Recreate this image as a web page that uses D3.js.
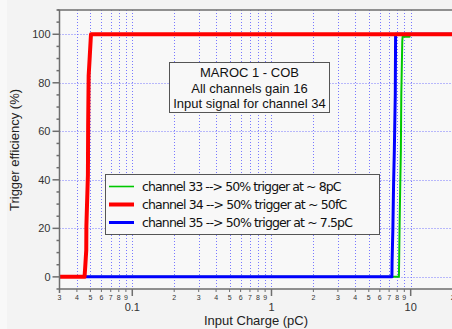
<!DOCTYPE html>
<html>
<head>
<meta charset="utf-8">
<script src="https://cdn.jsdelivr.net/npm/d3@7"></script>
<style>
	body { margin: 0; background: #f3f3f3; }
	svg { display: block; }
</style>
</head>
<body>
<div id="plot"></div>
<script>
// readings from the picture: [charge pC, efficiency %]
var ch33 = [[0.046,0],[8.23,0],[8.26,6],[8.32,20],[8.42,39],[8.50,52],[8.56,75],[8.70,97],[8.75,99],[9.82,99],[9.85,100],[30,100]];
var ch34 = [[0.03,0],[0.0454,0],[0.0459,4],[0.0467,11],[0.0468,21],[0.0480,42],[0.0481,52],[0.0482,63],[0.0486,83],[0.0495,91],[0.0505,100],[30,100]];
var ch35 = [[0.046,0],[7.33,0],[7.35,6],[7.45,20],[7.54,39],[7.63,52],[7.75,75],[7.79,100],[30,100]];

var yMajor = [0, 20, 40, 60, 80, 100];
var yMinor = [-5, 5, 10, 15, 25, 30, 35, 45, 50, 55, 65, 70, 75, 85, 90, 95, 105, 110];
var xMajor = [0.1, 1, 10];
var xMinor = [0.03,0.04,0.05,0.06,0.07,0.08,0.09,0.2,0.3,0.4,0.5,0.6,0.7,0.8,0.9,2,3,4,5,6,7,8,9,20];

var boxLines = ['MAROC 1 - COB', 'All channels gain 16', 'Input signal for channel 34'];
var legend = [
	{txt: 'channel 33 --> 50% trigger at ~ 8pC', col: '#00c800', w: 1.6},
	{txt: 'channel 34 --> 50% trigger at ~ 50fC', col: '#ff0000', w: 4},
	{txt: 'channel 35 --> 50% trigger at ~ 7.5pC', col: '#0000ff', w: 3}
];
var series = [
	{d: ch33, col: '#00c800', w: 2},
	{d: ch35, col: '#0000ff', w: 3},
	{d: ch34, col: '#ff0000', w: 4}
];

var W = 452, H = 329;
var mLeft = 59.5, mTop = 10, mBottom = 289;

var x = d3.scaleLog().domain([0.03, 30]).range([mLeft, mLeft + 3 * 139.2]);
var y = d3.scaleLinear().domain([-5, 110]).range([mBottom, mTop]);

var svg = d3.select('#plot').append('svg')
	.attr('width', W).attr('height', H)
	.style('font-family', 'Liberation Sans, Arial, sans-serif');

svg.append('rect').attr('width', W).attr('height', H).attr('fill', '#f3f3f3');
svg.append('rect').attr('width', 7).attr('height', H).attr('fill', '#f8f8f8');
svg.append('rect')
	.attr('x', mLeft).attr('y', mTop)
	.attr('width', W - mLeft).attr('height', mBottom - mTop)
	.attr('fill', '#f8f8f8');

svg.append('clipPath').attr('id', 'clip')
	.append('rect')
		.attr('x', mLeft).attr('y', mTop)
		.attr('width', W - mLeft).attr('height', mBottom - mTop);

// grid
var grid = svg.append('g')
	.attr('stroke', '#7878ff')
	.attr('stroke-width', 1)
	.attr('stroke-dasharray', '1,2');
grid.selectAll('.gx')
	.data(xMinor.concat(xMajor).filter(d => d > 0.03))
	.enter().append('line')
		.attr('x1', d => Math.round(x(d)) + 0.5).attr('x2', d => Math.round(x(d)) + 0.5)
		.attr('y1', mTop).attr('y2', mBottom);
grid.selectAll('.gy')
	.data(yMajor)
	.enter().append('line')
		.attr('x1', mLeft).attr('x2', W)
		.attr('y1', d => Math.round(y(d)) + 0.5).attr('y2', d => Math.round(y(d)) + 0.5);

// curves
var line = d3.line().x(d => x(d[0])).y(d => y(d[1]));
svg.append('g').attr('clip-path', 'url(#clip)')
	.selectAll('path')
	.data(series)
	.enter().append('path')
		.attr('d', d => line(d.d))
		.attr('fill', 'none')
		.attr('stroke', d => d.col)
		.attr('stroke-width', d => d.w)
		.attr('stroke-linejoin', 'round');

// axes frame
var axCol = '#6e6e6e';
svg.append('line')
	.attr('x1', mLeft).attr('x2', mLeft).attr('y1', mTop).attr('y2', mBottom + 4)
	.attr('stroke', axCol).attr('stroke-width', 1.5);
svg.append('line')
	.attr('x1', mLeft - 2).attr('x2', W).attr('y1', mTop).attr('y2', mTop)
	.attr('stroke', axCol).attr('stroke-width', 1.5);
svg.append('line')
	.attr('x1', mLeft).attr('x2', W).attr('y1', mBottom).attr('y2', mBottom)
	.attr('stroke', axCol).attr('stroke-width', 1.5);

// y ticks
var yAxis = svg.append('g');
yAxis.selectAll('.mj')
	.data(yMajor)
	.enter().append('line')
		.attr('x1', mLeft - 7).attr('x2', mLeft)
		.attr('y1', d => y(d)).attr('y2', d => y(d))
		.attr('stroke', axCol).attr('stroke-width', 1.5);
yAxis.selectAll('.mn')
	.data(yMinor)
	.enter().append('line')
		.attr('x1', mLeft - 3).attr('x2', mLeft)
		.attr('y1', d => y(d)).attr('y2', d => y(d))
		.attr('stroke', axCol).attr('stroke-width', 1.5);
yAxis.selectAll('text')
	.data(yMajor)
	.enter().append('text')
		.attr('x', mLeft - 9).attr('y', d => y(d) + 4)
		.attr('text-anchor', 'end')
		.attr('font-size', 11)
		.attr('fill', '#333')
		.text(d => d);

// x ticks
function digit(d) {
	return Math.round(d / Math.pow(10, Math.floor(Math.log10(d) + 1e-9)));
}
var xAxis = svg.append('g');
xAxis.selectAll('.mn')
	.data(xMinor)
	.enter().append('line')
		.attr('x1', d => x(d)).attr('x2', d => x(d))
		.attr('y1', mBottom).attr('y2', mBottom + 3)
		.attr('stroke', axCol).attr('stroke-width', 1);
xAxis.selectAll('.mj')
	.data(xMajor)
	.enter().append('line')
		.attr('x1', d => x(d)).attr('x2', d => x(d))
		.attr('y1', mBottom).attr('y2', mBottom + 7)
		.attr('stroke', axCol).attr('stroke-width', 1.5);
xAxis.selectAll('.lmn')
	.data(xMinor)
	.enter().append('text')
		.attr('x', d => x(d)).attr('y', mBottom + 10.5)
		.attr('text-anchor', 'middle')
		.attr('font-size', 7)
		.attr('fill', '#333')
		.text(d => digit(d));
xAxis.selectAll('.lmj')
	.data(xMajor)
	.enter().append('text')
		.attr('x', d => x(d)).attr('y', mBottom + 22)
		.attr('text-anchor', 'middle')
		.attr('font-size', 11)
		.attr('fill', '#333')
		.text(d => d);

// axis titles
svg.append('text')
	.attr('x', 256).attr('y', 324.5)
	.attr('text-anchor', 'middle')
	.attr('font-size', 13)
	.attr('fill', '#222')
	.text('Input Charge (pC)');
svg.append('text')
	.attr('transform', 'translate(19,150) rotate(-90)')
	.attr('text-anchor', 'middle')
	.attr('font-size', 13)
	.attr('fill', '#222')
	.text('Trigger efficiency (%)');

// info box
svg.append('rect')
	.attr('x', 169.5).attr('y', 62.5).attr('width', 160).attr('height', 50)
	.attr('fill', '#f8f8f8').attr('stroke', '#555').attr('stroke-width', 1);
svg.append('g').selectAll('text')
	.data(boxLines)
	.enter().append('text')
		.attr('x', 249.5).attr('y', (d, i) => 77 + i * 15.5)
		.attr('text-anchor', 'middle')
		.attr('font-size', 13)
		.attr('fill', '#111')
		.text(d => d);

// legend
var lg = svg.append('g');
lg.append('rect')
	.attr('x', 105.5).attr('y', 174.5).attr('width', 274).attr('height', 60)
	.attr('fill', '#f8f8f8').attr('stroke', '#555').attr('stroke-width', 1);
var row = lg.selectAll('.row')
	.data(legend)
	.enter().append('g')
		.attr('transform', (d, i) => `translate(0,${186.5 + i * 18})`);
row.append('line')
	.attr('x1', 109).attr('x2', 134)
	.attr('stroke', d => d.col)
	.attr('stroke-width', d => d.w);
row.append('text')
	.attr('x', 142).attr('y', 4.5)
	.attr('font-size', 12.5)
	.attr('font-family', 'DejaVu Sans, sans-serif')
	.attr('textLength', d => d.txt.length * 5.7)
	.attr('fill', '#111')
	.text(d => d.txt);
</script>
</body>
</html>
